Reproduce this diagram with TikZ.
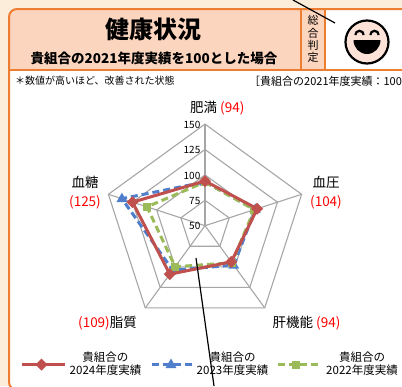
\documentclass[tikz,border=0pt]{standalone}
\usepackage{fontspec}
\setmainfont{Noto Sans CJK JP}
\usepackage{tikz}
\definecolor{bgcream}{RGB}{251,237,217}
\definecolor{peach}{RGB}{252,213,191}
\definecolor{orangeline}{RGB}{237,125,49}
\definecolor{facepink}{RGB}{253,226,216}
\definecolor{gridgray}{RGB}{166,166,166}
\definecolor{red24}{RGB}{192,80,77}
\definecolor{blue23}{RGB}{79,127,204}
\definecolor{green22}{RGB}{155,187,89}
\definecolor{valred}{RGB}{255,0,0}

\begin{document}
\begin{tikzpicture}[x=1pt,y=-1pt]
    \tikzstyle{every node}+=[inner sep=0pt]
    \useasboundingbox (0,0) rectangle (402,386);
    \fill [bgcream] (0,0) rectangle (402,386);
    % panel and header
    \fill [white, rounded corners=8] (9,9) rectangle (440,390);
    \fill [peach] (9,70) [rounded corners=8] -- (9,9) [sharp corners] -- (325,9) -- (325,70) -- cycle;
    \draw [orangeline, line width=1.5] (301,9) -- (301,70);
    \draw [orangeline, line width=1.5] (325,9) -- (325,70);
    \draw [orangeline, line width=2] (9,70) -- (440,70);
    \draw [orangeline, line width=2, rounded corners=8] (440,390) -- (9,390) -- (9,9) -- (440,9);
    \node (title) [font=\fontsize{24}{24}\selectfont\bfseries] at (153,29) {健康状況};
    \node (subtitle) [font=\fontsize{13.5}{14}\selectfont\bfseries] at (154,58) {貴組合の2021年度実績を100とした場合};
    \node (judge) [align=center, font=\fontsize{11}{12.2}\selectfont] at (313,39) {総\\合\\判\\定};
    % face
    \draw [black, line width=2.2, fill=facepink] (367,42) circle (21.5);
    \draw [black, line width=2.2] (355.3,35) arc (180:360:4.2);
    \draw [black, line width=2.2] (370.3,35) arc (180:360:4.2);
    \fill [black] (353.5,40) -- (380.5,40) arc (0:180:13.5 and 14) -- cycle;
    % notes
    \node (note) [anchor=west, font=\fontsize{10}{10}\selectfont] at (15,81) {＊数値が高いほど、改善された状態};
    \node (base) [anchor=west, font=\fontsize{11}{11}\selectfont] at (249,81) {［貴組合の2021年度実績：100};
    % radar
    \begin{scope}[shift={(205,225.7)}, yscale=-1]
        \draw [gridgray, line width=1.1] (90:101.6) -- (18:101.6) -- (-54:101.6) -- (-126:101.6) -- (162:101.6) -- cycle;
        \draw [gridgray, line width=1.1] (90:76.2) -- (18:76.2) -- (-54:76.2) -- (-126:76.2) -- (162:76.2) -- cycle;
        \draw [gridgray, line width=1.1] (90:50.8) -- (18:50.8) -- (-54:50.8) -- (-126:50.8) -- (162:50.8) -- cycle;
        \draw [gridgray, line width=1.1] (90:25.4) -- (18:25.4) -- (-54:25.4) -- (-126:25.4) -- (162:25.4) -- cycle;
        \draw [gridgray, line width=1.1] (0,0) -- (90:101.6);
        \draw [gridgray, line width=1.1] (0,0) -- (18:101.6);
        \draw [gridgray, line width=1.1] (0,0) -- (-54:101.6);
        \draw [gridgray, line width=1.1] (0,0) -- (-126:101.6);
        \draw [gridgray, line width=1.1] (0,0) -- (162:101.6);
        % 2023
        \coordinate (b1) at (90:43.7);
        \coordinate (b2) at (18:52.8);
        \coordinate (b3) at (-54:48.8);
        \coordinate (b4) at (-126:54.9);
        \coordinate (b5) at (162:87.4);
        \draw [blue23, line width=3, dash pattern=on 7pt off 4pt] (b1) -- (b2) -- (b3) -- (b4) -- (b5) -- cycle;
        \fill [blue23] (b1) ++(0,6) -- ++(5.5,-9.5) -- ++(-11,0) -- cycle;
        \fill [blue23] (b2) ++(0,6) -- ++(5.5,-9.5) -- ++(-11,0) -- cycle;
        \fill [blue23] (b3) ++(0,6) -- ++(5.5,-9.5) -- ++(-11,0) -- cycle;
        \fill [blue23] (b4) ++(0,6) -- ++(5.5,-9.5) -- ++(-11,0) -- cycle;
        \fill [blue23] (b5) ++(0,6) -- ++(5.5,-9.5) -- ++(-11,0) -- cycle;
        % 2022
        \coordinate (g1) at (90:43.7);
        \coordinate (g2) at (18:51.8);
        \coordinate (g3) at (-54:45.7);
        \coordinate (g4) at (-126:50.8);
        \coordinate (g5) at (162:61);
        \draw [green22, line width=3, dash pattern=on 7pt off 4pt] (g1) -- (g2) -- (g3) -- (g4) -- (g5) -- cycle;
        \fill [green22] (g1) ++(-4,-4) rectangle ++(8,8);
        \fill [green22] (g2) ++(-4,-4) rectangle ++(8,8);
        \fill [green22] (g3) ++(-4,-4) rectangle ++(8,8);
        \fill [green22] (g4) ++(-4,-4) rectangle ++(8,8);
        \fill [green22] (g5) ++(-4,-4) rectangle ++(8,8);
        % 2024
        \coordinate (r1) at (90:44.7);
        \coordinate (r2) at (18:54.9);
        \coordinate (r3) at (-54:44.7);
        \coordinate (r4) at (-126:59.9);
        \coordinate (r5) at (162:76.2);
        \draw [red24, line width=3] (r1) -- (r2) -- (r3) -- (r4) -- (r5) -- cycle;
        \fill [red24] (r1) ++(0,6) -- ++(6,-6) -- ++(-6,-6) -- ++(-6,6) -- cycle;
        \fill [red24] (r2) ++(0,6) -- ++(6,-6) -- ++(-6,-6) -- ++(-6,6) -- cycle;
        \fill [red24] (r3) ++(0,6) -- ++(6,-6) -- ++(-6,-6) -- ++(-6,6) -- cycle;
        \fill [red24] (r4) ++(0,6) -- ++(6,-6) -- ++(-6,-6) -- ++(-6,6) -- cycle;
        \fill [red24] (r5) ++(0,6) -- ++(6,-6) -- ++(-6,-6) -- ++(-6,6) -- cycle;
    \end{scope}
    % scale values
    \node (v150) [anchor=east, font=\fontsize{10}{10}\selectfont] at (200.5,125) {150};
    \node (v125) [anchor=east, font=\fontsize{10}{10}\selectfont] at (200.5,150) {125};
    \node (v100) [anchor=east, font=\fontsize{10}{10}\selectfont] at (200.5,175.5) {100};
    \node (v75) [anchor=east, font=\fontsize{10}{10}\selectfont] at (200.5,201) {75};
    \node (v50) [anchor=east, font=\fontsize{10}{10}\selectfont] at (200.5,226) {50};
    % axis labels
    \node (himan) [anchor=west, font=\fontsize{13.5}{14}\selectfont] at (190,108) {肥満 {\color{valred}(94)}};
    \node (ketsuatsu) [align=center, font=\fontsize{13.5}{18.5}\selectfont] at (326,192.5) {血圧\\{\color{valred}(104)}};
    \node (kanki) [font=\fontsize{13.5}{14}\selectfont] at (306.5,323) {肝機能 {\color{valred}(94)}};
    \node (shishitsu) [font=\fontsize{13.5}{14}\selectfont] at (107.5,323) {{\color{valred}(109)}脂質};
    \node (kettou) [align=center, font=\fontsize{13.5}{18.5}\selectfont] at (85,192.5) {血糖\\{\color{valred}(125)}};
    % legend
    \draw [red24, line width=2.5] (22,364.5) -- (65,364.5);
    \fill [red24] (41.5,358.5) -- (47.5,364.5) -- (41.5,370.5) -- (35.5,364.5) -- cycle;
    \node (leg24) [align=center, font=\fontsize{11.5}{13.5}\selectfont] at (105.5,363.5) {貴組合の\\2024年度実績};
    \draw [blue23, line width=2.5, dash pattern=on 7pt off 4pt] (152,364.5) -- (192,364.5);
    \fill [blue23] (171,358.5) -- (176.5,368) -- (165.5,368) -- cycle;
    \node (leg23) [align=center, font=\fontsize{11.5}{13.5}\selectfont] at (232.5,363.5) {貴組合の\\2023年度実績};
    \draw [green22, line width=2.5, dash pattern=on 7pt off 4pt] (278,364.5) -- (320,364.5);
    \fill [green22] (292,360.5) rectangle (300,368.5);
    \node (leg22) [align=center, font=\fontsize{11.5}{13.5}\selectfont] at (362,363.5) {貴組合の\\2022年度実績};
    % leader lines
    \coordinate (leadtopA) at (293,0);
    \coordinate (leadtopB) at (335,23);
    \draw [black, line width=1.2] (leadtopA) -- (leadtopB);
    \coordinate (leadbotA) at (196,258);
    \coordinate (leadbotB) at (214,386);
    \draw [black, line width=1.2] (leadbotA) -- (leadbotB);
\end{tikzpicture}
\end{document}
